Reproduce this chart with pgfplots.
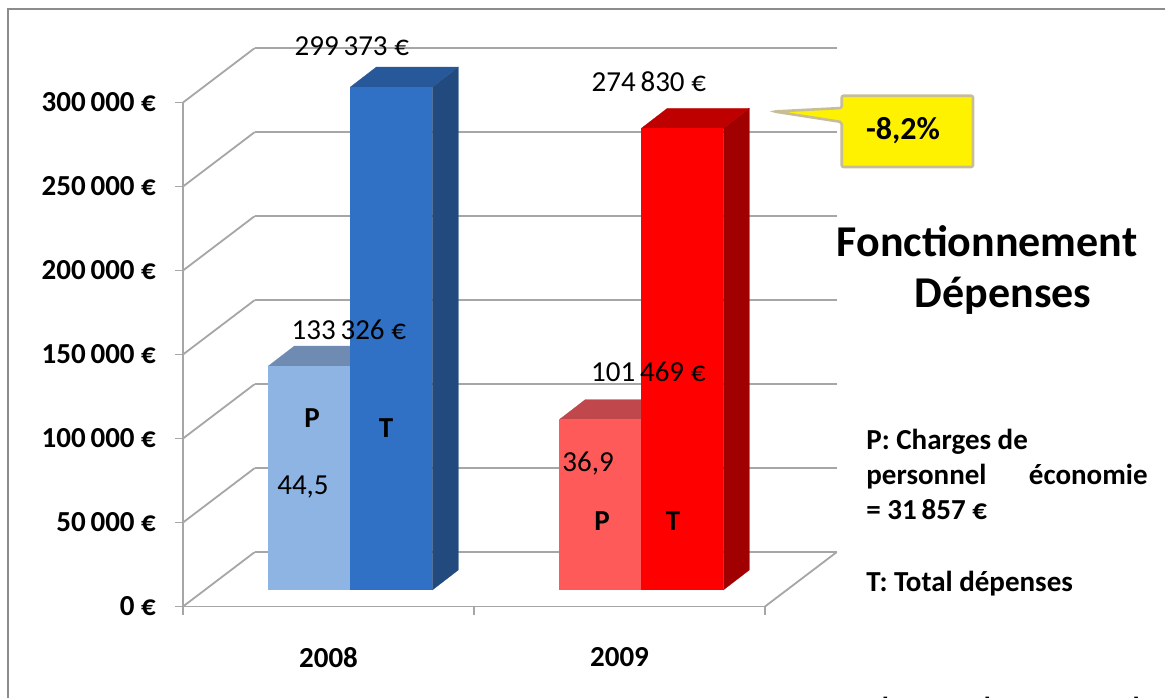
\documentclass[border=0pt]{standalone}
\usepackage{pgfplots}
\pgfplotsset{compat=1.18}
\usepackage{fontspec}
\setmainfont{Carlito}
\definecolor{gridgray}{HTML}{A6A6A6}
\definecolor{bordergray}{HTML}{8C8C8C}
\definecolor{pA}{HTML}{8EB4E3}
\definecolor{pAtop}{HTML}{6F8BB2}
\definecolor{tA}{HTML}{3071C5}
\definecolor{tAside}{HTML}{224A7E}
\definecolor{tAtop}{HTML}{27589A}
\definecolor{pB}{HTML}{FF5A5A}
\definecolor{pBtop}{HTML}{C0474B}
\definecolor{tB}{HTML}{FF0000}
\definecolor{tBside}{HTML}{A00000}
\definecolor{tBtop}{HTML}{BE0000}
\definecolor{calloutborder}{HTML}{C8BE96}
\newcommand{\lbl}{\fontsize{14.5}{17}\selectfont}
\begin{document}
\begin{tikzpicture}
\useasboundingbox (0,0) rectangle (582.5pt,-348.5pt);
\begin{scope}[x=0.5pt,y=-0.5pt]
\fill[white] (0,0) rectangle (1165,697);
\draw[bordergray, line width=1.2pt] (8,9) rectangle (1185,720);
\end{scope}

% back wall
\begin{axis}[
  at={(127.35pt,-276.05pt)}, anchor=south west,
  scale only axis, width=291pt, height=252pt,
  xmin=-0.5, xmax=1.5, ymin=0, ymax=300000,
  axis line style={draw=none},
  xtick=\empty,
  ytick={0,50000,100000,150000,200000,250000,300000},
  yticklabels={},
  scaled y ticks=false,
  major tick length=0pt,
  ymajorgrids, grid style={gridgray, line width=0.9pt},
]
\end{axis}

% front plane: axes, ticks, labels
\begin{axis}[
  at={(91.5pt,-303.25pt)}, anchor=south west,
  scale only axis, width=291pt, height=252pt,
  xmin=-0.5, xmax=1.5, ymin=0, ymax=300000,
  clip=false,
  axis lines*=left,
  axis line style={gridgray, line width=0.9pt},
  every tick/.style={gridgray, line width=0.9pt},
  tick align=outside, major tick length=4pt,
  xtick={-0.5,0.5,1.5}, xticklabels={},
  extra x ticks={0,1}, extra x tick labels={2008,2009},
  extra x tick style={major tick length=0pt, xticklabel style={yshift=-17pt}},
  ytick={0,50000,100000,150000,200000,250000,300000},
  yticklabels={0 €,50\,000 €,100\,000 €,150\,000 €,200\,000 €,250\,000 €,300\,000 €},
  yticklabel style={xshift=-6pt},
  scaled y ticks=false,
  tick label style={font=\bfseries\lbl, text=black},
]
\pgfplotsinvokeforeach{0,50000,100000,150000,200000,250000,300000}{
  \draw[gridgray, line width=0.9pt] (axis cs:-0.5,#1) -- ++(35.85pt,27.2pt);
}
\draw[gridgray, line width=0.9pt] (axis cs:1.5,0) -- ++(35.85pt,27.2pt);
\end{axis}

% bar plane
\begin{axis}[
  at={(102.4pt,-295pt)}, anchor=south west,
  scale only axis, width=291pt, height=252pt,
  xmin=-0.5, xmax=1.5, ymin=0, ymax=300000,
  hide axis, clip=false,
]
% 2008 P
\addplot[fill=pAtop, draw=pAtop, line width=0.1pt] coordinates {(-0.28179,133326) (-0.19244,145231) (0.08935,145231) (0,133326)} -- cycle;
\addplot[ybar, bar width=41pt, bar shift=-20.5pt, fill=pA, draw=none,
  nodes near coords={133\,326 €},
  every node near coord/.append style={anchor=center, xshift=-0.75pt, yshift=18pt, font=\lbl, text=black}]
  coordinates {(0,133326)};
% 2008 T
\addplot[fill=tAside, draw=tAside, line width=0.1pt] coordinates {(0.28179,0) (0.37114,11905) (0.37114,311278) (0.28179,299373)} -- cycle;
\addplot[fill=tAtop, draw=tAtop, line width=0.1pt] coordinates {(0,299373) (0.08935,311278) (0.37114,311278) (0.28179,299373)} -- cycle;
\addplot[ybar, bar width=41pt, bar shift=20.5pt, fill=tA, draw=none,
  nodes near coords={299\,373 €},
  every node near coord/.append style={anchor=center, xshift=0.75pt, yshift=20.5pt, font=\lbl, text=black}]
  coordinates {(0,299373)};
% 2009 P
\addplot[fill=pBtop, draw=pBtop, line width=0.1pt] coordinates {(0.71821,101469) (0.80756,113374) (1.08935,113374) (1,101469)} -- cycle;
\addplot[ybar, bar width=41pt, bar shift=-20.5pt, fill=pB, draw=none,
  nodes near coords={101\,469 €},
  every node near coord/.append style={anchor=center, xshift=3.5pt, yshift=24pt, font=\lbl, text=black}]
  coordinates {(1,101469)};
% 2009 T
\addplot[fill=tBside, draw=tBside, line width=0.1pt] coordinates {(1.28179,0) (1.37114,11905) (1.37114,286735) (1.28179,274830)} -- cycle;
\addplot[fill=tBtop, draw=tBtop, line width=0.1pt] coordinates {(1,274830) (1.08935,286735) (1.37114,286735) (1.28179,274830)} -- cycle;
\addplot[ybar, bar width=41pt, bar shift=20.5pt, fill=tB, draw=none,
  nodes near coords={274\,830 €},
  every node near coord/.append style={anchor=center, xshift=3.75pt, yshift=23.5pt, font=\lbl, text=black}]
  coordinates {(1,274830)};
\end{axis}

\begin{scope}[x=0.5pt,y=-0.5pt]
% texts on bars
\node[font=\bfseries\lbl] at (312,418) {P};
\node[font=\bfseries\lbl] at (386,428) {T};
\node[font=\lbl] at (303,487) {44,5};
\node[font=\lbl] at (588,464) {36,9};
\node[font=\bfseries\lbl] at (602,521) {P};
\node[font=\bfseries\lbl] at (673,521) {T};
% callout
\draw[calloutborder, line width=1.3pt, fill=yellow, rounded corners=1pt]
  (841.7,95.7) -- (973,95.7) -- (973,167) -- (841.7,167) -- (841.7,122) -- (774,111.5) -- (841.7,108) -- cycle;
\node[font=\bfseries\fontsize{16}{19}\selectfont] at (903,131) {-8,2\%};
% title
\node[font=\bfseries\fontsize{22}{26}\selectfont] at (987,241) {Fonctionnement};
\node[font=\bfseries\fontsize{22}{26}\selectfont] at (1003,296) {Dépenses};
% side notes
\node[font=\bfseries\lbl, anchor=base west, inner sep=0pt] at (866,449) {P: Charges de};
\node[font=\bfseries\lbl, anchor=base west, inner sep=0pt] at (866,484) {personnel};
\node[font=\bfseries\lbl, anchor=base east, inner sep=0pt] at (1148,484) {économie};
\node[font=\bfseries\lbl, anchor=base west, inner sep=0pt] at (866,519) {= 31\,857 €};
\node[font=\bfseries\lbl, anchor=base west, inner sep=0pt] at (866,591) {T: Total dépenses};
\node[font=\bfseries\lbl, anchor=base west, inner sep=0pt] at (866,717) {Charges};
\node[font=\bfseries\lbl, anchor=base west, inner sep=0pt] at (975,717) {de};
\node[font=\bfseries\lbl, anchor=base east, inner sep=0pt] at (1140,717) {personnel};
\end{scope}
\end{tikzpicture}
\end{document}
